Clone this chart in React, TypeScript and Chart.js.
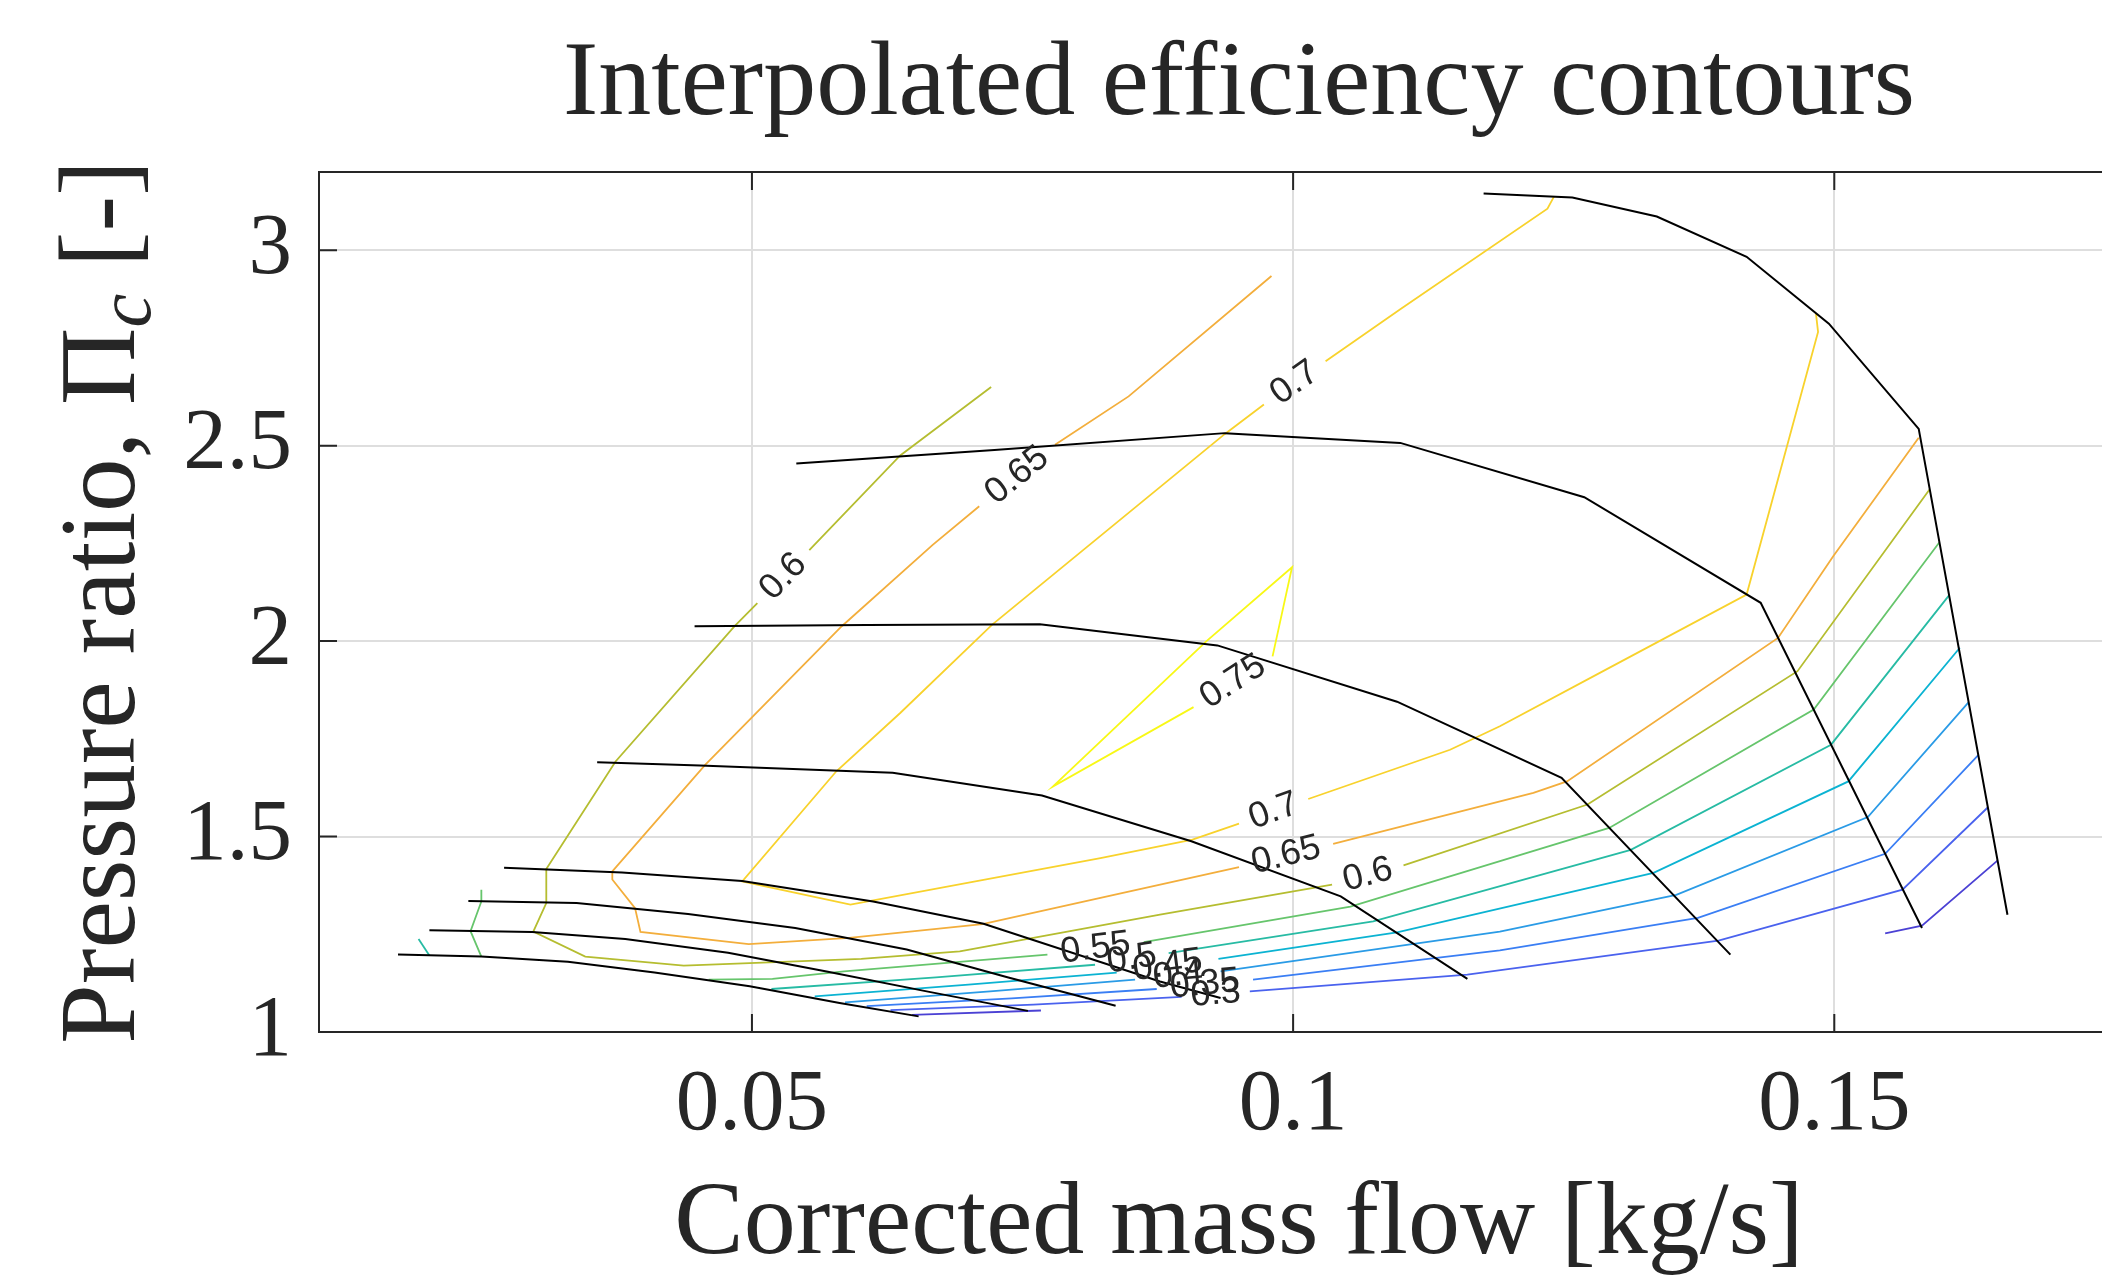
import React, { useEffect, useRef } from 'react';
import { Chart, registerables } from 'chart.js';

Chart.register(...registerables);

type Pt = [number, number];

// ---------- axes ----------
const xRange: Pt = [0.01, 0.18];
const yRange: Pt = [1, 3.2];
const xTicks = [0.05, 0.1, 0.15];
const yTicks = [1, 1.5, 2, 2.5, 3];

const titleText = 'Interpolated efficiency contours';
const xLabelText = 'Corrected mass flow [kg/s]';
const yLabelMain = 'Pressure ratio, \u03A0';
const yLabelSub = 'c';
const yLabelTail = ' [-]';

// ---------- speed lines (black) ----------
const speedLine1: Pt[] = [[0.1176, 3.145], [0.1258, 3.135], [0.1336, 3.086], [0.1419, 2.983], [0.1495, 2.812], [0.1578, 2.543], [0.1660, 1.300]];
const speedLine2: Pt[] = [[0.0541, 2.454], [0.0724, 2.489], [0.0937, 2.532], [0.1099, 2.507], [0.1269, 2.368], [0.1432, 2.098], [0.1581, 1.266]];
const speedLine3: Pt[] = [[0.0447, 2.038], [0.0606, 2.041], [0.0766, 2.043], [0.0930, 1.989], [0.1096, 1.845], [0.1248, 1.650], [0.1404, 1.198]];
const speedLine4: Pt[] = [[0.0357, 1.690], [0.0452, 1.682], [0.0630, 1.663], [0.0768, 1.605], [0.0906, 1.488], [0.1044, 1.347], [0.1161, 1.136]];
const speedLine5: Pt[] = [[0.0271, 1.420], [0.0380, 1.408], [0.0491, 1.386], [0.0612, 1.334], [0.0714, 1.277], [0.0877, 1.129], [0.0933, 1.087]];
const speedLine6: Pt[] = [[0.0238, 1.335], [0.0338, 1.330], [0.0441, 1.302], [0.0540, 1.266], [0.0643, 1.211], [0.0736, 1.140], [0.0836, 1.067]];
const speedLine7: Pt[] = [[0.0202, 1.260], [0.0297, 1.256], [0.0383, 1.238], [0.0478, 1.203], [0.0569, 1.155], [0.0665, 1.102], [0.0755, 1.054]];
const speedLine8: Pt[] = [[0.0173, 1.198], [0.0250, 1.193], [0.0330, 1.180], [0.0410, 1.152], [0.0498, 1.117], [0.0581, 1.074], [0.0654, 1.040]];
const speedLines = [speedLine1, speedLine2, speedLine3, speedLine4, speedLine5, speedLine6, speedLine7, speedLine8];

// ---------- efficiency contours (pieces between gaps) ----------
const contour075: Pt[][] = [
  [[0.0981, 1.961], [0.0999, 2.189], [0.0920, 2.000], [0.0778, 1.628], [0.0908, 1.831]],
];
const contour070: Pt[][] = [
  [[0.1241, 3.137], [0.1235, 3.106], [0.1099, 2.849], [0.1030, 2.716]],
  [[0.0973, 2.605], [0.0937, 2.530], [0.0722, 2.042], [0.0637, 1.816], [0.0578, 1.667], [0.0491, 1.385], [0.0591, 1.326], [0.0822, 1.445], [0.0907, 1.492], [0.0950, 1.533]],
  [[0.1014, 1.596], [0.1145, 1.722], [0.1191, 1.782], [0.1289, 1.927], [0.1419, 2.119], [0.1485, 2.791], [0.1483, 2.839]],
];
const contour065: Pt[][] = [
  [[0.0980, 2.934], [0.0848, 2.626], [0.0780, 2.502]],
  [[0.0710, 2.345], [0.0667, 2.246], [0.0583, 2.038], [0.0457, 1.684], [0.0371, 1.411], [0.0371, 1.390], [0.0392, 1.317], [0.0397, 1.256], [0.0497, 1.225], [0.0590, 1.241], [0.0713, 1.276], [0.0822, 1.343], [0.0950, 1.422]],
  [[0.1037, 1.481], [0.1222, 1.612], [0.1253, 1.641], [0.1448, 2.008], [0.1499, 2.217], [0.1578, 2.520]],
];
const contour060: Pt[][] = [
  [[0.0721, 2.650], [0.0637, 2.475], [0.0553, 2.233]],
  [[0.0505, 2.097], [0.0484, 2.038], [0.0374, 1.692], [0.0310, 1.417], [0.0310, 1.330], [0.0298, 1.257], [0.0346, 1.193], [0.0437, 1.170], [0.0601, 1.187], [0.0692, 1.206], [0.0877, 1.300], [0.1036, 1.377]],
  [[0.1102, 1.426], [0.1272, 1.582], [0.1466, 1.923], [0.1588, 2.388]],
];
const contour055: Pt[][] = [
  [[0.0250, 1.364], [0.0250, 1.334], [0.0240, 1.258], [0.0250, 1.193]],
  [[0.0460, 1.134], [0.0519, 1.136], [0.0585, 1.155], [0.0773, 1.198]],
  [[0.0862, 1.230], [0.1053, 1.321], [0.1292, 1.522], [0.1481, 1.825], [0.1597, 2.252]],
];
const contour050: Pt[][] = [
  [[0.0192, 1.238], [0.0202, 1.196]],
  [[0.0518, 1.110], [0.0670, 1.140], [0.0817, 1.172]],
  [[0.0885, 1.202], [0.1074, 1.283], [0.1312, 1.466], [0.1497, 1.735], [0.1606, 2.117]],
];
const contour045: Pt[][] = [
  [[0.0558, 1.091], [0.0700, 1.121], [0.0837, 1.152]],
  [[0.0931, 1.187], [0.1096, 1.255], [0.1333, 1.407], [0.1513, 1.641], [0.1616, 1.983]],
];
const contour040: Pt[][] = [
  [[0.0586, 1.076], [0.0720, 1.104], [0.0854, 1.134]],
  [[0.0933, 1.155], [0.1191, 1.257], [0.1354, 1.351], [0.1531, 1.550], [0.1624, 1.843]],
];
const contour035: Pt[][] = [
  [[0.0606, 1.066], [0.0740, 1.086], [0.0874, 1.110]],
  [[0.0963, 1.134], [0.1191, 1.209], [0.1374, 1.292], [0.1547, 1.456], [0.1633, 1.708]],
];
const contour030: Pt[][] = [
  [[0.0628, 1.056], [0.0760, 1.070], [0.0897, 1.090]],
  [[0.0960, 1.104], [0.1161, 1.147], [0.1393, 1.234], [0.1563, 1.364], [0.1642, 1.575]],
];
const contour025: Pt[][] = [
  [[0.0648, 1.044], [0.0767, 1.055]],
  [[0.1547, 1.252], [0.1581, 1.272], [0.1651, 1.439]],
];

const contourLevels = [0.25, 0.3, 0.35, 0.4, 0.45, 0.5, 0.55, 0.6, 0.65, 0.7, 0.75];
const contourPieces = [contour025, contour030, contour035, contour040, contour045, contour050, contour055, contour060, contour065, contour070, contour075];
const contourColors = ['#4b41d4', '#4a62ee', '#3a7ef4', '#2a9be6', '#0bb3d2', '#27bba4', '#66c56c', '#b5bd30', '#f3ae3c', '#f8d22c', '#f8f816'];

// inline labels: level, gap from end of piece `from` to start of piece `to`
const contourLabels: { level: number; from: number; to: number }[] = [
  { level: 0.75, from: 0, to: 0 },
  { level: 0.7, from: 0, to: 1 },
  { level: 0.7, from: 1, to: 2 },
  { level: 0.65, from: 0, to: 1 },
  { level: 0.65, from: 1, to: 2 },
  { level: 0.6, from: 0, to: 1 },
  { level: 0.6, from: 1, to: 2 },
  { level: 0.55, from: 1, to: 2 },
  { level: 0.5, from: 1, to: 2 },
  { level: 0.45, from: 0, to: 1 },
  { level: 0.4, from: 0, to: 1 },
  { level: 0.35, from: 0, to: 1 },
  { level: 0.3, from: 0, to: 1 },
];

const INK = '#262626';
const SERIF = '"Liberation Serif", "Times New Roman", serif';
const SANS = '"Liberation Sans", Arial, sans-serif';

const decorPlugin = {
  id: 'decor',
  afterDatasetsDraw(chart: any) {
    const { ctx } = chart;
    const xs = chart.scales.x;
    const ys = chart.scales.y;
    ctx.save();
    ctx.font = `36px ${SANS}`;
    ctx.fillStyle = INK;
    ctx.textAlign = 'center';
    ctx.textBaseline = 'middle';
    for (const lab of contourLabels) {
      const pieces = contourPieces[contourLevels.indexOf(lab.level)];
      const pa = pieces[lab.from];
      const a = pa[pa.length - 1];
      const b = pieces[lab.to][0];
      const ax = xs.getPixelForValue(a[0]);
      const ay = ys.getPixelForValue(a[1]);
      const bx = xs.getPixelForValue(b[0]);
      const by = ys.getPixelForValue(b[1]);
      let ang = Math.atan2(by - ay, bx - ax);
      if (ang > Math.PI / 2) ang -= Math.PI;
      if (ang < -Math.PI / 2) ang += Math.PI;
      ctx.save();
      ctx.translate((ax + bx) / 2, (ay + by) / 2);
      ctx.rotate(ang);
      ctx.fillText(String(lab.level), 0, 0);
      ctx.restore();
    }
    ctx.restore();
  },
  afterDraw(chart: any) {
    const { ctx, chartArea } = chart;
    const { left, right, top, bottom } = chartArea;
    const xs = chart.scales.x;
    const ys = chart.scales.y;
    ctx.save();
    // axes box
    ctx.strokeStyle = INK;
    ctx.lineWidth = 2;
    ctx.beginPath();
    ctx.moveTo(right, top);
    ctx.lineTo(left, top);
    ctx.lineTo(left, bottom);
    ctx.lineTo(right, bottom);
    ctx.stroke();
    // inward ticks
    const tl = 18;
    ctx.beginPath();
    for (const v of xTicks) {
      const px = xs.getPixelForValue(v);
      ctx.moveTo(px, bottom);
      ctx.lineTo(px, bottom - tl);
      ctx.moveTo(px, top);
      ctx.lineTo(px, top + tl);
    }
    for (const v of yTicks) {
      const py = ys.getPixelForValue(v);
      ctx.moveTo(left, py);
      ctx.lineTo(left + tl, py);
    }
    ctx.stroke();

    const cx = (left + right) / 2;
    ctx.fillStyle = INK;
    ctx.textBaseline = 'alphabetic';
    ctx.textAlign = 'center';
    // title
    ctx.font = `106px ${SERIF}`;
    ctx.fillText(titleText, cx, 114);
    // x label
    ctx.font = `104px ${SERIF}`;
    ctx.fillText(xLabelText, cx, 1253);
    // y label with subscript
    const mainFont = `107px ${SERIF}`;
    const subFont = `italic 76px ${SERIF}`;
    ctx.font = mainFont;
    const w1 = ctx.measureText(yLabelMain).width;
    const w3 = ctx.measureText(yLabelTail).width;
    ctx.font = subFont;
    const w2 = ctx.measureText(yLabelSub).width;
    const total = w1 + w2 + w3;
    ctx.translate(134, (top + bottom) / 2);
    ctx.rotate(-Math.PI / 2);
    ctx.textAlign = 'left';
    let x0 = -total / 2;
    ctx.font = mainFont;
    ctx.fillText(yLabelMain, x0, 0);
    x0 += w1;
    ctx.font = subFont;
    ctx.fillText(yLabelSub, x0, 16);
    x0 += w2;
    ctx.font = mainFont;
    ctx.fillText(yLabelTail, x0, 0);
    ctx.restore();
  },
};

export default function App() {
  const ref = useRef<HTMLCanvasElement | null>(null);

  useEffect(() => {
    const canvas = ref.current;
    if (!canvas) return;
    const datasets: any[] = [];
    speedLines.forEach((line, i) => {
      datasets.push({
        label: `speed ${i + 1}`,
        data: line.map(([x, y]) => ({ x, y })),
        showLine: true,
        borderColor: '#000000',
        borderWidth: 2,
        pointRadius: 0,
        fill: false,
        tension: 0,
      });
    });
    contourPieces.forEach((pieces, li) => {
      pieces.forEach((piece, pi) => {
        datasets.push({
          label: `eta ${contourLevels[li]} #${pi}`,
          data: piece.map(([x, y]) => ({ x, y })),
          showLine: true,
          borderColor: contourColors[li],
          borderWidth: 1.8,
          pointRadius: 0,
          fill: false,
          tension: 0,
        });
      });
    });

    const tickFont = { family: SERIF, size: 87 };
    const chart = new Chart(canvas, {
      type: 'scatter',
      data: { datasets },
      options: {
        animation: false,
        responsive: false,
        devicePixelRatio: 1,
        layout: { padding: { top: 172, right: 0, bottom: 0, left: 0 } },
        plugins: {
          legend: { display: false },
          tooltip: { enabled: false },
          title: { display: false },
        },
        scales: {
          x: {
            type: 'linear',
            min: xRange[0],
            max: xRange[1],
            afterBuildTicks: (s: any) => {
              s.ticks = xTicks.map((v) => ({ value: v }));
            },
            afterFit: (s: any) => {
              s.height = 247;
            },
            ticks: {
              font: tickFont,
              color: INK,
              padding: 22,
              maxRotation: 0,
              autoSkip: false,
              callback: (v: any) => String(v),
            },
            grid: { color: '#dedede', lineWidth: 2, drawTicks: false },
            border: { display: false },
          },
          y: {
            type: 'linear',
            min: yRange[0],
            max: yRange[1],
            afterBuildTicks: (s: any) => {
              s.ticks = yTicks.map((v) => ({ value: v }));
            },
            afterFit: (s: any) => {
              s.width = 319;
            },
            ticks: {
              font: tickFont,
              color: INK,
              padding: 27,
              autoSkip: false,
              callback: (v: any) => String(v),
            },
            grid: { color: '#dedede', lineWidth: 2, drawTicks: false },
            border: { display: false },
          },
        },
      } as any,
      plugins: [decorPlugin as any],
    });
    return () => chart.destroy();
  }, []);

  return (
    <div
      style={{
        position: 'fixed',
        left: 0,
        top: 0,
        width: 2102,
        height: 1279,
        overflow: 'hidden',
        background: '#ffffff',
      }}
    >
      <canvas ref={ref} width={2159} height={1279} style={{ display: 'block' }} />
    </div>
  );
}
